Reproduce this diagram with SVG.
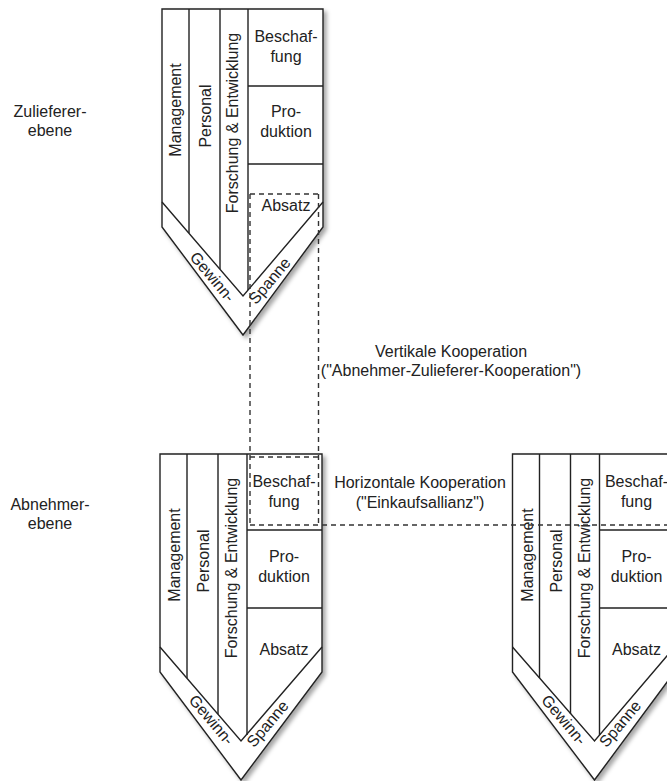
<svg xmlns="http://www.w3.org/2000/svg" width="667" height="781" viewBox="0 0 667 781">
<defs>
<filter id="sh" x="-10%" y="-10%" width="130%" height="130%">
<feDropShadow dx="3" dy="3" stdDeviation="2" flood-color="#000" flood-opacity="0.35"/>
</filter>
</defs>
<style>
.o{fill:#fff;stroke:#222;stroke-width:1.4;filter:url(#sh)}
.l{fill:none;stroke:#222;stroke-width:1.4}
.t{font-family:"Liberation Sans",Arial,Helvetica,sans-serif;font-size:16px;fill:#222;text-anchor:middle}
.d{fill:none;stroke:#333;stroke-width:1.4;stroke-dasharray:5 4}
</style>
<rect width="667" height="781" fill="#fff"/>

<g id="zulieferer-chain" transform="translate(162,9)">
<path class="o" d="M0,0 H161 V218 L81,326 L0,218 Z"/>
<path class="l" d="M0,193 L81,287 L161,193"/>
<path class="l" d="M27,0 V224 M58,0 V260 M86,0 V281 M86,77 H161 M86,155 H161"/>
<text class="t" transform="translate(19,101) rotate(-90)">Management</text>
<text class="t" transform="translate(49,107) rotate(-90)">Personal</text>
<text class="t" transform="translate(76,114) rotate(-90)">Forschung &amp; Entwicklung</text>
<text class="t" x="124" y="33">Beschaf-</text>
<text class="t" x="124" y="53">fung</text>
<text class="t" x="124" y="108">Pro-</text>
<text class="t" x="124" y="128">duktion</text>
<text class="t" x="124" y="202">Absatz</text>
<text class="t" transform="translate(50,268) rotate(50)" y="5">Gewinn-</text>
<text class="t" transform="translate(108,272) rotate(-50)" y="5">Spanne</text>
</g>

<g id="abnehmer-chain-1" transform="translate(160,454)">
<path class="o" d="M0,0 H162 V218 L81,326 L0,218 Z"/>
<path class="l" d="M0,193 L81,287 L162,193"/>
<path class="l" d="M27,0 V224 M58,0 V260 M87,0 V281 M87,76 H162 M87,154 H162"/>
<text class="t" transform="translate(20,101) rotate(-90)">Management</text>
<text class="t" transform="translate(49,107) rotate(-90)">Personal</text>
<text class="t" transform="translate(77,114) rotate(-90)">Forschung &amp; Entwicklung</text>
<text class="t" x="124" y="33">Beschaf-</text>
<text class="t" x="124" y="53">fung</text>
<text class="t" x="124" y="108">Pro-</text>
<text class="t" x="124" y="128">duktion</text>
<text class="t" x="124" y="201">Absatz</text>
<text class="t" transform="translate(51,266) rotate(50)" y="5">Gewinn-</text>
<text class="t" transform="translate(108,270) rotate(-50)" y="5">Spanne</text>
</g>

<g id="abnehmer-chain-2" transform="translate(512.5,454)">
<path class="o" d="M0,0 H162 V218 L82,326 L0,218 Z"/>
<path class="l" d="M0,193 L82,287 L162,193"/>
<path class="l" d="M27,0 V224 M58,0 V260 M87,0 V281 M87,76 H162 M87,154 H162"/>
<text class="t" transform="translate(20,101) rotate(-90)">Management</text>
<text class="t" transform="translate(49,107) rotate(-90)">Personal</text>
<text class="t" transform="translate(77,114) rotate(-90)">Forschung &amp; Entwicklung</text>
<text class="t" x="124" y="33">Beschaf-</text>
<text class="t" x="124" y="53">fung</text>
<text class="t" x="124" y="108">Pro-</text>
<text class="t" x="124" y="128">duktion</text>
<text class="t" x="124" y="201">Absatz</text>
<text class="t" transform="translate(51,266) rotate(50)" y="5">Gewinn-</text>
<text class="t" transform="translate(108,270) rotate(-50)" y="5">Spanne</text>
</g>

<g id="label-zulieferer">
<text class="t" x="50" y="117">Zulieferer-</text>
<text class="t" x="50" y="136">ebene</text>
</g>
<g id="label-abnehmer">
<text class="t" x="50" y="510">Abnehmer-</text>
<text class="t" x="50" y="529">ebene</text>
</g>
<g id="label-vertikal">
<text class="t" x="451" y="357">Vertikale Kooperation</text>
<text class="t" x="451" y="376">("Abnehmer-Zulieferer-Kooperation")</text>
</g>
<g id="label-horizontal">
<text class="t" x="420" y="488">Horizontale Kooperation</text>
<text class="t" x="420" y="508">("Einkaufsallianz")</text>
</g>

<g id="connectors">
<path class="d" d="M250,194 H318.5 M250,194 V525 M318.5,194 V525 M250,457 H318.5 M250,525 H667"/>
</g>
</svg>
